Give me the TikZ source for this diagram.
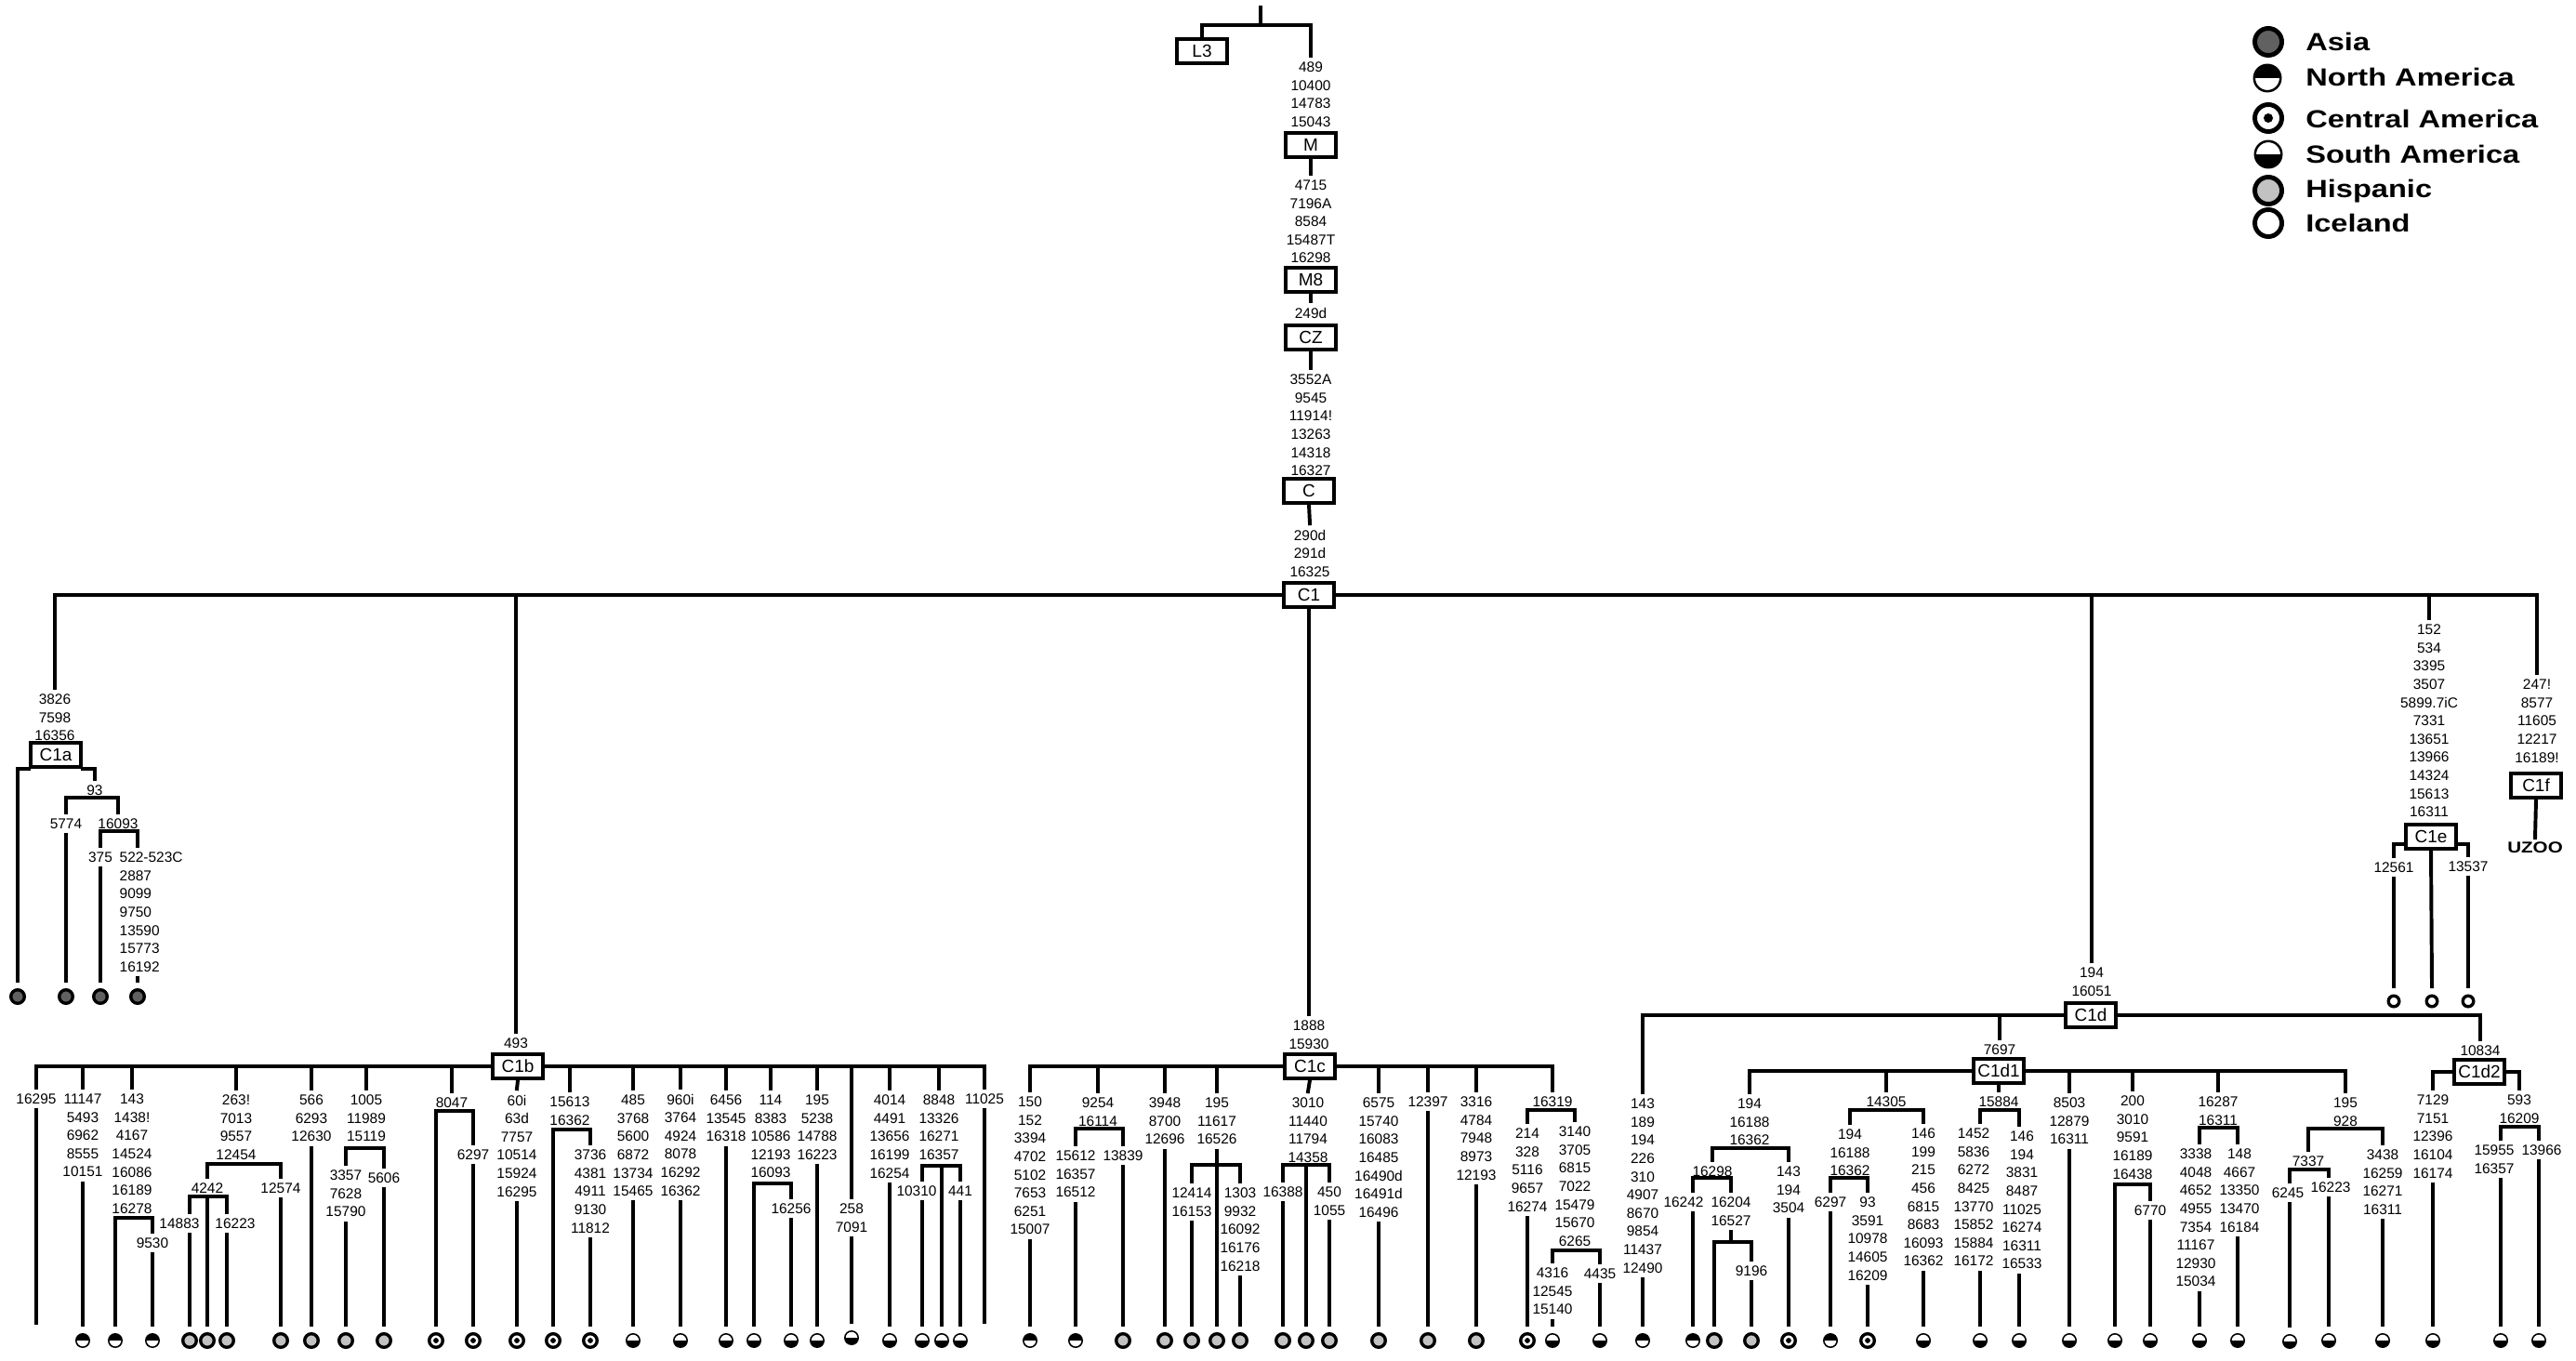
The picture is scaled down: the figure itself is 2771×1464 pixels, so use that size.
\documentclass[tikz,border=0pt]{standalone}
\usepackage{fontspec}
\setmainfont{Liberation Sans}
\usepackage{graphicx}
\usepackage{tikz}
\definecolor{asiagray}{gray}{0.38}
\definecolor{hispgray}{gray}{0.76}
\newcommand{\mfont}{\fontsize{11}{13.95}\selectfont}
\newcommand{\widebf}[1]{\scalebox{1.22}[1]{\bfseries #1}}

\begin{document}
\begin{tikzpicture}[
    x=0.025cm, y=-0.025cm,
    treeline/.style={line width=2.8pt, line cap=rect},
    mut/.style={font=\mfont, align=center, anchor=north, yshift=0.295cm,
      inner xsep=1pt, inner ysep=4.5pt},
    clade/.style={draw, line width=3.2pt, fill=white, font=\fontsize{13.5}{16}\selectfont,
      minimum width=1.36cm, minimum height=0.64cm, inner sep=0pt},
    leafbase/.style={circle, draw, inner sep=0pt, outer sep=0.25cm},
    fullc/.style={leafbase, line width=2.4pt, minimum size=0.365cm},
    halfc/.style={leafbase, line width=1.1pt, minimum size=0.36cm},
    asia/.style={fullc, fill=asiagray},
    hisp/.style={fullc, fill=hispgray},
    ice/.style={fullc, fill=white, minimum size=0.29cm},
    cent/.style={fullc, fill=white,
      path picture={\fill[black] (path picture bounding box.center) circle (#1);}},
    cent/.default=0.072cm,
    na/.style={halfc, fill=white,
      path picture={\fill[black] (path picture bounding box.north west) rectangle (path picture bounding box.east);}},
    sa/.style={halfc, fill=white,
      path picture={\fill[black] (path picture bounding box.west) rectangle (path picture bounding box.south east);}},
    legtxt/.style={anchor=base west, font=\fontsize{19}{22}\selectfont, inner sep=0pt}
  ]
    \useasboundingbox (0,0) rectangle (2771,1464);

    \node[asia, minimum size=0.725cm, line width=3.5pt] (kasia) at (2440,45) {};
    \node[na, minimum size=0.71cm, line width=1.8pt] (knorth) at (2439,84) {};
    \node[cent=0.125cm, minimum size=0.725cm, line width=3.5pt] (kcent) at (2440,127) {};
    \node[sa, minimum size=0.71cm, line width=1.8pt] (ksouth) at (2440,166) {};
    \node[hisp, minimum size=0.725cm, line width=3.5pt] (khisp) at (2440,205) {};
    \node[ice, minimum size=0.725cm, line width=3.5pt] (kice) at (2440,240) {};
    \node[legtxt] (tasia) at (2480,55) {\widebf{Asia}};
    \node[legtxt] (tnorth) at (2480,93) {\widebf{North America}};
    \node[legtxt] (tcent) at (2480,138) {\widebf{Central America}};
    \node[legtxt] (tsouth) at (2480,176) {\widebf{South America}};
    \node[legtxt] (thisp) at (2480,213) {\widebf{Hispanic}};
    \node[legtxt] (tice) at (2480,250) {\widebf{Iceland}};

    \coordinate (top) at (1356,8);
    \coordinate (jtop) at (1356,27);
    \node[clade] (L3) at (1293,55) {L3};
    \node[mut] (mM) at (1410,72) {489\\10400\\14783\\15043};
    \node[clade] (M) at (1410,156) {M};
    \node[mut] (mM8) at (1410,199) {4715\\7196A\\8584\\15487T\\16298};
    \node[clade] (M8) at (1410,301) {M8};
    \node[mut] (mCZ) at (1410,336) {249d};
    \node[clade] (CZ) at (1410,363) {CZ};
    \node[mut] (mC) at (1410,408) {3552A\\9545\\11914!\\13263\\14318\\16327};
    \node[clade] (C) at (1408,528) {C};
    \node[mut] (mC1) at (1409,575) {290d\\291d\\16325};
    \node[clade] (C1) at (1408,640) {C1};

    \draw[treeline] (top) -- (jtop);
    \draw[treeline] (L3.north) |- (jtop) -| (mM.north);
    \draw[treeline] (M.south) -- (mM8.north);
    \draw[treeline] (M8.south) -- (mCZ.north);
    \draw[treeline] (CZ.south) -- (mC.north);
    \draw[treeline] (C.south) -- (mC1.north);

    \node[mut] (m1a) at (59,752) {3826\\7598\\16356};
    \node[mut] (m1b) at (555,1122) {493};
    \node[mut] (m1c) at (1408,1103) {1888\\15930};
    \node[mut] (m1d) at (2250,1046) {194\\16051};
    \node[mut] (m1e) at (2613,677) {152\\534\\3395\\3507\\5899.7iC\\7331\\13651\\13966\\14324\\15613\\16311};
    \node[mut] (m1f) at (2729,736) {247!\\8577\\11605\\12217\\16189!};
    \draw[treeline] (m1a.north) |- (C1.west);
    \draw[treeline] (m1f.north) |- (C1.east);
    \draw[treeline] (m1b.north) -- (m1b.north |- C1);
    \draw[treeline] (C1.south) -- (m1c.north);
    \draw[treeline] (m1d.north) -- (m1d.north |- C1);
    \draw[treeline] (m1e.north) -- (m1e.north |- C1);

    \node[clade] (C1a) at (60,812) {C1a};
    \node[mut] (m93) at (102,850) {93};
    \coordinate (j93) at (102,858);
    \node[mut] (m5774) at (71,886) {5774};
    \node[mut] (m16093) at (127,886) {16093};
    \coordinate (j16093) at (148,894);
    \node[mut] (m375) at (108,922) {375};
    \node[mut, anchor=north west, align=left] (m522) at (127,922)
      {522-523C\\2887\\9099\\9750\\13590\\15773\\16192};
    \node[asia] (l1a1) at (19,1072) {};
    \node[asia] (l1a2) at (71,1072) {};
    \node[asia] (l1a3) at (108,1072) {};
    \node[asia] (l1a4) at (148,1072) {};
    \draw[treeline] (l1a1.north) |- (C1a.south west);
    \draw[treeline] (C1a.south east) -| (m93.north);
    \draw[treeline] (m5774.north) |- (j93) -| (m16093.north);
    \draw[treeline] (m5774.south) -- (l1a2.north);
    \draw[treeline] (m375.north) |- (j16093) -- (j16093 |- m522.north);
    \draw[treeline] (m375.south) -- (l1a3.north);
    \draw[treeline] (l1a4.north |- m522.south) -- (l1a4.north);

    \node[clade] (C1b) at (557,1147) {C1b};
    \node[mut] (m1b1) at (39,1182) {16295};
    \node[mut] (m1b2) at (89,1182) {11147\\5493\\6962\\8555\\10151};
    \node[mut] (m1b3) at (142,1182) {143\\1438!\\4167\\14524\\16086\\16189\\16278};
    \node[mut] (m9530) at (164,1337) {9530};
    \node[mut] (m1b4) at (254,1183) {263!\\7013\\9557\\12454};
    \node[mut] (m4242) at (223,1278) {4242};
    \node[mut] (m14883) at (193,1316) {14883};
    \node[mut] (m16223a) at (253,1316) {16223};
    \node[mut] (m12574) at (302,1278) {12574};
    \node[mut] (m1b5) at (335,1183) {566\\6293\\12630};
    \node[mut] (m1b6) at (394,1183) {1005\\11989\\15119};
    \node[mut] (m3357) at (372,1264) {3357\\7628\\15790};
    \node[mut] (m5606) at (413,1267) {5606};
    \node[mut] (m1b7) at (486,1186) {8047};
    \node[mut] (m6297a) at (509,1242) {6297};
    \node[mut] (m1b8) at (556,1183) {60i\\63d\\7757\\10514\\15924\\16295};
    \node[mut] (m1b9) at (613,1185) {15613\\16362};
    \node[mut] (m3736) at (635,1242) {3736\\4381\\4911\\9130\\11812};
    \node[mut] (m1b10) at (681,1183) {485\\3768\\5600\\6872\\13734\\15465};
    \node[mut] (m1b11) at (732,1182) {960i\\3764\\4924\\8078\\16292\\16362};
    \node[mut] (m1b12) at (781,1183) {6456\\13545\\16318};
    \node[mut] (m1b13) at (829,1183) {114\\8383\\10586\\12193\\16093};
    \node[mut] (m16256) at (851,1300) {16256};
    \node[mut] (m1b14) at (879,1183) {195\\5238\\14788\\16223};
    \node[mut] (m1b15) at (916,1300) {258\\7091};
    \node[mut] (m1b16) at (957,1183) {4014\\4491\\13656\\16199\\16254};
    \node[mut] (m1b17) at (1010,1183) {8848\\13326\\16271\\16357};
    \node[mut] (m10310) at (986,1281) {10310};
    \node[mut] (m441) at (1033,1281) {441};
    \node[mut] (m1b18) at (1059,1182) {11025};
    \coordinate (e1b1) at (39,1423);
    \coordinate (e1b18) at (1059,1422);
    \node[na] (l1b2) at (89,1442) {};
    \node[na] (l1b3a) at (124,1442) {};
    \node[na] (l1b3b) at (164,1442) {};
    \node[hisp] (l1b4a) at (204,1442) {};
    \node[hisp] (l1b4b) at (223,1442) {};
    \node[hisp] (l1b4c) at (244,1442) {};
    \node[hisp] (l1b4d) at (302,1442) {};
    \node[hisp] (l1b5) at (335,1442) {};
    \node[hisp] (l1b6a) at (372,1442) {};
    \node[hisp] (l1b6b) at (413,1442) {};
    \node[cent] (l1b7a) at (469,1442) {};
    \node[cent] (l1b7b) at (509,1442) {};
    \node[cent] (l1b8) at (556,1442) {};
    \node[cent] (l1b9a) at (595,1442) {};
    \node[cent] (l1b9b) at (635,1442) {};
    \node[sa] (l1b10) at (681,1442) {};
    \node[sa] (l1b11) at (732,1442) {};
    \node[sa] (l1b12) at (781,1442) {};
    \node[sa] (l1b13a) at (811,1442) {};
    \node[sa] (l1b13b) at (851,1442) {};
    \node[sa] (l1b14) at (879,1442) {};
    \node[sa] (l1b15) at (916,1439) {};
    \node[sa] (l1b16) at (957,1442) {};
    \node[sa] (l1b17a) at (992,1442) {};
    \node[sa] (l1b17b) at (1013,1442) {};
    \node[sa] (l1b17c) at (1033,1442) {};
    \coordinate (j1b3) at (142,1310);
    \coordinate (j1b4) at (254,1252);
    \coordinate (j4242) at (223,1287);
    \coordinate (j1b6) at (394,1235);
    \coordinate (j1b7) at (486,1195);
    \coordinate (j1b9) at (613,1215);
    \coordinate (j1b13) at (829,1273);
    \coordinate (j1b17) at (1013,1254);

    \draw[treeline] (m1b1.north) |- (C1b.west);
    \draw[treeline] (m1b18.north) |- (C1b.east);
    \draw[treeline] (m1b2.north) -- (m1b2.north |- C1b);
    \draw[treeline] (m1b3.north) -- (m1b3.north |- C1b);
    \draw[treeline] (m1b4.north) -- (m1b4.north |- C1b);
    \draw[treeline] (m1b5.north) -- (m1b5.north |- C1b);
    \draw[treeline] (m1b6.north) -- (m1b6.north |- C1b);
    \draw[treeline] (m1b7.north) -- (m1b7.north |- C1b);
    \draw[treeline] (C1b.south) -- (m1b8.north);
    \draw[treeline] (m1b9.north) -- (m1b9.north |- C1b);
    \draw[treeline] (m1b10.north) -- (m1b10.north |- C1b);
    \draw[treeline] (m1b11.north) -- (m1b11.north |- C1b);
    \draw[treeline] (m1b12.north) -- (m1b12.north |- C1b);
    \draw[treeline] (m1b13.north) -- (m1b13.north |- C1b);
    \draw[treeline] (m1b14.north) -- (m1b14.north |- C1b);
    \draw[treeline] (m1b15.north) -- (m1b15.north |- C1b);
    \draw[treeline] (m1b16.north) -- (m1b16.north |- C1b);
    \draw[treeline] (m1b17.north) -- (m1b17.north |- C1b);
    \draw[treeline] (m1b1.south) -- (e1b1);
    \draw[treeline] (m1b18.south) -- (e1b18);
    \draw[treeline] (m1b2.south) -- (l1b2.north);
    \draw[treeline] (l1b3a.north) |- (j1b3) -| (m9530.north);
    \draw[treeline] (m9530.south) -- (l1b3b.north);
    \draw[treeline] (m4242.north) |- (j1b4) -| (m12574.north);
    \draw[treeline] (m12574.south) -- (l1b4d.north);
    \draw[treeline] (l1b4a.north |- m14883.north) |- (j4242) -| (l1b4c.north |- m16223a.north);
    \draw[treeline] (j4242) -- (l1b4b.north);
    \draw[treeline] (l1b4a.north |- m14883.south) -- (l1b4a.north);
    \draw[treeline] (l1b4c.north |- m16223a.south) -- (l1b4c.north);
    \draw[treeline] (m1b5.south) -- (l1b5.north);
    \draw[treeline] (m3357.north) |- (j1b6) -| (m5606.north);
    \draw[treeline] (m3357.south) -- (l1b6a.north);
    \draw[treeline] (m5606.south) -- (l1b6b.north);
    \draw[treeline] (l1b7a.north) |- (j1b7) -| (m6297a.north);
    \draw[treeline] (m6297a.south) -- (l1b7b.north);
    \draw[treeline] (m1b8.south) -- (l1b8.north);
    \draw[treeline] (l1b9a.north) |- (j1b9) -| (m3736.north);
    \draw[treeline] (m3736.south) -- (l1b9b.north);
    \draw[treeline] (m1b10.south) -- (l1b10.north);
    \draw[treeline] (m1b11.south) -- (l1b11.north);
    \draw[treeline] (m1b12.south) -- (l1b12.north);
    \draw[treeline] (l1b13a.north) |- (j1b13) -| (m16256.north);
    \draw[treeline] (m16256.south) -- (l1b13b.north);
    \draw[treeline] (m1b14.south) -- (l1b14.north);
    \draw[treeline] (m1b15.south) -- (l1b15.north);
    \draw[treeline] (m1b16.south) -- (l1b16.north);
    \draw[treeline] (l1b17a.north |- m10310.north) |- (j1b17) -| (m441.north);
    \draw[treeline] (l1b17a.north |- m10310.south) -- (l1b17a.north);
    \draw[treeline] (j1b17) -- (l1b17b.north);
    \draw[treeline] (m441.south) -- (l1b17c.north);

    \node[clade] (C1c) at (1409,1147) {C1c};
    \node[mut] (m1c1) at (1108,1185) {150\\152\\3394\\4702\\5102\\7653\\6251\\15007};
    \node[mut] (m1c2) at (1181,1186) {9254\\16114};
    \node[mut] (m15612) at (1157,1243) {15612\\16357\\16512};
    \node[mut] (m13839) at (1208,1243) {13839};
    \node[mut] (m1c3) at (1253,1186) {3948\\8700\\12696};
    \node[mut] (m1c4) at (1309,1186) {195\\11617\\16526};
    \node[mut] (m12414) at (1282,1283) {12414\\16153};
    \node[mut] (m1303) at (1334,1283) {1303\\9932\\16092\\16176\\16218};
    \node[mut] (m1c5) at (1407,1186) {3010\\11440\\11794\\14358};
    \node[mut] (m16388) at (1380,1282) {16388};
    \node[mut] (m450) at (1430,1282) {450\\1055};
    \node[mut] (m1c6) at (1483,1186) {6575\\15740\\16083\\16485\\16490d\\16491d\\16496};
    \node[mut] (m1c7) at (1536,1185) {12397};
    \node[mut] (m1c8) at (1588,1185) {3316\\4784\\7948\\8973\\12193};
    \node[mut] (m1c9) at (1670,1185) {16319};
    \node[mut] (m214) at (1643,1219) {214\\328\\5116\\9657\\16274};
    \node[mut] (m3140) at (1694,1217) {3140\\3705\\6815\\7022\\15479\\15670\\6265};
    \node[mut] (m4316) at (1670,1369) {4316\\12545\\15140};
    \node[mut] (m4435) at (1721,1370) {4435};
    \node[na] (l1c1) at (1108,1442) {};
    \node[na] (l1c2a) at (1157,1442) {};
    \node[hisp] (l1c2b) at (1208,1442) {};
    \node[hisp] (l1c3) at (1253,1442) {};
    \node[hisp] (l1c4a) at (1282,1442) {};
    \node[hisp] (l1c4b) at (1309,1442) {};
    \node[hisp] (l1c4c) at (1334,1442) {};
    \node[hisp] (l1c5a) at (1380,1442) {};
    \node[hisp] (l1c5b) at (1405,1442) {};
    \node[hisp] (l1c5c) at (1430,1442) {};
    \node[hisp] (l1c6) at (1483,1442) {};
    \node[hisp] (l1c7) at (1536,1442) {};
    \node[hisp] (l1c8) at (1588,1442) {};
    \node[cent] (l1c9a) at (1643,1442) {};
    \node[sa] (l1c9b) at (1670,1442) {};
    \node[sa] (l1c9c) at (1721,1442) {};
    \coordinate (j1c2) at (1181,1214);
    \coordinate (j1c4) at (1309,1253);
    \coordinate (j1c5) at (1405,1253);
    \coordinate (j1c9) at (1670,1194);
    \coordinate (j3140) at (1694,1345);

    \draw[treeline] (m1c1.north) |- (C1c.west);
    \draw[treeline] (m1c9.north) |- (C1c.east);
    \draw[treeline] (m1c2.north) -- (m1c2.north |- C1c);
    \draw[treeline] (m1c3.north) -- (m1c3.north |- C1c);
    \draw[treeline] (m1c4.north) -- (m1c4.north |- C1c);
    \draw[treeline] (C1c.south) -- (m1c5.north);
    \draw[treeline] (m1c6.north) -- (m1c6.north |- C1c);
    \draw[treeline] (m1c7.north) -- (m1c7.north |- C1c);
    \draw[treeline] (m1c8.north) -- (m1c8.north |- C1c);
    \draw[treeline] (m1c1.south) -- (l1c1.north);
    \draw[treeline] (m15612.north) |- (j1c2) -| (m13839.north);
    \draw[treeline] (m15612.south) -- (l1c2a.north);
    \draw[treeline] (m13839.south) -- (l1c2b.north);
    \draw[treeline] (m1c3.south) -- (l1c3.north);
    \draw[treeline] (m1c4.south) -- (l1c4b.north);
    \draw[treeline] (m12414.north) |- (j1c4) -| (m1303.north);
    \draw[treeline] (m12414.south) -- (l1c4a.north);
    \draw[treeline] (m1303.south) -- (l1c4c.north);
    \draw[treeline] (m16388.north) |- (j1c5) -| (m450.north);
    \draw[treeline] (j1c5) -- (l1c5b.north);
    \draw[treeline] (m16388.south) -- (l1c5a.north);
    \draw[treeline] (m450.south) -- (l1c5c.north);
    \draw[treeline] (m1c6.south) -- (l1c6.north);
    \draw[treeline] (m1c7.south) -- (l1c7.north);
    \draw[treeline] (m1c8.south) -- (l1c8.north);
    \draw[treeline] (m214.north) |- (j1c9) -| (m3140.north);
    \draw[treeline] (m214.south) -- (l1c9a.north);
    \draw[treeline] (m4316.north) |- (j3140) -| (m4435.north);
    \draw[treeline] (m4316.south) -- (l1c9b.north);
    \draw[treeline] (m4435.south) -- (l1c9c.north);

    \node[clade] (C1d) at (2249,1092) {C1d};
    \node[mut] (m1d1) at (1767,1187) {143\\189\\194\\226\\310\\4907\\8670\\9854\\11437\\12490};
    \node[mut] (m7697) at (2151,1129) {7697};
    \node[clade] (C1d1) at (2150,1152) {C1d1};
    \node[mut] (m10834) at (2668,1130) {10834};
    \node[clade] (C1d2) at (2667,1153) {C1d2};
    \node[mut] (md11) at (1882,1187) {194\\16188\\16362};
    \node[mut] (m16298) at (1842,1260) {16298};
    \node[mut] (m16242) at (1811,1293) {16242};
    \node[mut] (m16204) at (1862,1293) {16204\\16527};
    \node[mut] (m9196) at (1884,1367) {9196};
    \node[mut] (m143b) at (1924,1260) {143\\194\\3504};
    \node[mut] (md12) at (2029,1185) {14305};
    \node[mut] (m194c) at (1990,1220) {194\\16188\\16362};
    \node[mut] (m6297b) at (1969,1293) {6297};
    \node[mut] (m93b) at (2009,1293) {93\\3591\\10978\\14605\\16209};
    \node[mut] (m146a) at (2069,1219) {146\\199\\215\\456\\6815\\8683\\16093\\16362};
    \node[mut] (md13) at (2150,1185) {15884};
    \node[mut] (m1452) at (2123,1219) {1452\\5836\\6272\\8425\\13770\\15852\\15884\\16172};
    \node[mut] (m146b) at (2175,1222) {146\\194\\3831\\8487\\11025\\16274\\16311\\16533};
    \node[mut] (md14) at (2226,1186) {8503\\12879\\16311};
    \node[mut] (md15) at (2294,1184) {200\\3010\\9591\\16189\\16438};
    \node[mut] (m6770) at (2313,1302) {6770};
    \node[mut] (md16) at (2386,1185) {16287\\16311};
    \node[mut] (m3338) at (2362,1241) {3338\\4048\\4652\\4955\\7354\\11167\\12930\\15034};
    \node[mut] (m148) at (2409,1241) {148\\4667\\13350\\13470\\16184};
    \node[mut] (md17) at (2523,1186) {195\\928};
    \node[mut] (m7337) at (2483,1249) {7337};
    \node[mut] (m6245) at (2461,1283) {6245};
    \node[mut] (m16223b) at (2507,1277) {16223};
    \node[mut] (m3438) at (2563,1242) {3438\\16259\\16271\\16311};
    \node[mut] (md21) at (2617,1183) {7129\\7151\\12396\\16104\\16174};
    \node[mut] (md22) at (2710,1183) {593\\16209};
    \node[mut] (m15955) at (2683,1237) {15955\\16357};
    \node[mut] (m13966) at (2734,1237) {13966};
    \node[na] (l1d1) at (1767,1442) {};
    \node[na] (l16242) at (1821,1442) {};
    \node[hisp] (l1d1c) at (1844,1442) {};
    \node[hisp] (l1d1d) at (1884,1442) {};
    \node[cent] (l1d1e) at (1924,1442) {};
    \node[na] (l1d2a) at (1969,1442) {};
    \node[cent] (l1d2b) at (2009,1442) {};
    \node[sa] (l1d2c) at (2069,1442) {};
    \node[sa] (l1d3a) at (2130,1442) {};
    \node[sa] (l1d3b) at (2172,1442) {};
    \node[sa] (l1d4) at (2226,1442) {};
    \node[sa] (l1d5a) at (2275,1442) {};
    \node[sa] (l1d5b) at (2313,1442) {};
    \node[sa] (l1d6a) at (2366,1442) {};
    \node[sa] (l1d6b) at (2407,1442) {};
    \node[sa] (l1d7a) at (2463,1443) {};
    \node[sa] (l1d7b) at (2505,1442) {};
    \node[sa] (l1d7c) at (2563,1442) {};
    \node[sa] (l1d8) at (2617,1442) {};
    \node[sa] (l1d9a) at (2690,1442) {};
    \node[sa] (l1d9b) at (2731,1442) {};
    \coordinate (jd11) at (1882,1235);
    \coordinate (j16298) at (1842,1267);
    \coordinate (j16204) at (1862,1336);
    \coordinate (jd12) at (2029,1194);
    \coordinate (j194c) at (1990,1267);
    \coordinate (jd13) at (2150,1194);
    \coordinate (jd15) at (2294,1274);
    \coordinate (jd16) at (2386,1213);
    \coordinate (jd17) at (2523,1214);
    \coordinate (j7337) at (2483,1258);
    \coordinate (jd22) at (2710,1212);

    \draw[treeline] (m1d1.north) |- (C1d.west);
    \draw[treeline] (m10834.north) |- (C1d.east);
    \draw[treeline] (m7697.north) -- (m7697.north |- C1d);
    \draw[treeline] (m1d1.south) -- (l1d1.north);
    \draw[treeline] (md11.north) |- (C1d1.west);
    \draw[treeline] (md17.north) |- (C1d1.east);
    \draw[treeline] (md12.north) -- (md12.north |- C1d1);
    \draw[treeline] (C1d1.south) -- (md13.north);
    \draw[treeline] (md14.north) -- (md14.north |- C1d1);
    \draw[treeline] (md15.north) -- (md15.north |- C1d1);
    \draw[treeline] (md16.north) -- (md16.north |- C1d1);
    \draw[treeline] (m16298.north) |- (jd11) -| (m143b.north);
    \draw[treeline] (l16242.north |- m16242.north) |- (j16298) -| (m16204.north);
    \draw[treeline] (l16242.north |- m16242.south) -- (l16242.north);
    \draw[treeline] (m16204.south) -- (j16204);
    \draw[treeline] (l1d1c.north) |- (j16204) -| (m9196.north);
    \draw[treeline] (m9196.south) -- (l1d1d.north);
    \draw[treeline] (m143b.south) -- (l1d1e.north);
    \draw[treeline] (m194c.north) |- (jd12) -| (m146a.north);
    \draw[treeline] (m6297b.north) |- (j194c) -| (m93b.north);
    \draw[treeline] (m6297b.south) -- (l1d2a.north);
    \draw[treeline] (m93b.south) -- (l1d2b.north);
    \draw[treeline] (m146a.south) -- (l1d2c.north);
    \draw[treeline] (l1d3a.north |- m1452.north) |- (jd13) -| (l1d3b.north |- m146b.north);
    \draw[treeline] (l1d3a.north |- m1452.south) -- (l1d3a.north);
    \draw[treeline] (l1d3b.north |- m146b.south) -- (l1d3b.north);
    \draw[treeline] (md14.south) -- (l1d4.north);
    \draw[treeline] (l1d5a.north) |- (jd15) -| (m6770.north);
    \draw[treeline] (m6770.south) -- (l1d5b.north);
    \draw[treeline] (l1d6a.north |- m3338.north) |- (jd16) -| (l1d6b.north |- m148.north);
    \draw[treeline] (l1d6a.north |- m3338.south) -- (l1d6a.north);
    \draw[treeline] (l1d6b.north |- m148.south) -- (l1d6b.north);
    \draw[treeline] (m7337.north) |- (jd17) -| (m3438.north);
    \draw[treeline] (l1d7a.north |- m6245.north) |- (j7337) -| (l1d7b.north |- m16223b.north);
    \draw[treeline] (l1d7a.north |- m6245.south) -- (l1d7a.north);
    \draw[treeline] (l1d7b.north |- m16223b.south) -- (l1d7b.north);
    \draw[treeline] (m3438.south) -- (l1d7c.north);
    \draw[treeline] (md21.north) |- (C1d2.west);
    \draw[treeline] (md22.north) |- (C1d2.east);
    \draw[treeline] (md21.south) -- (l1d8.north);
    \draw[treeline] (l1d9a.north |- m15955.north) |- (jd22) -| (l1d9b.north |- m13966.north);
    \draw[treeline] (l1d9a.north |- m15955.south) -- (l1d9a.north);
    \draw[treeline] (l1d9b.north |- m13966.south) -- (l1d9b.north);

    \node[clade] (C1e) at (2615,900) {C1e};
    \node[mut] (m12561) at (2575,933) {12561};
    \node[mut] (m13537) at (2655,932) {13537};
    \node[ice] (l1e1) at (2575,1077) {};
    \node[ice] (l1e2) at (2616,1077) {};
    \node[ice] (l1e3) at (2655,1077) {};
    \draw[treeline] (m12561.north) |- ([yshift=-0.2cm]C1e.west);
    \draw[treeline] (m13537.north) |- ([yshift=-0.2cm]C1e.east);
    \draw[treeline] (C1e.south) -- (l1e2.north);
    \draw[treeline] (m12561.south) -- (l1e1.north);
    \draw[treeline] (m13537.south) -- (l1e3.north);

    \node[clade] (C1f) at (2728,845) {C1f};
    \node[font=\fontsize{12}{14}\selectfont] (uzoo) at (2727,912) {\widebf{UZOO}};
    \draw[treeline] (C1f.south) -- (uzoo.north);
  \end{tikzpicture}
\end{document}
